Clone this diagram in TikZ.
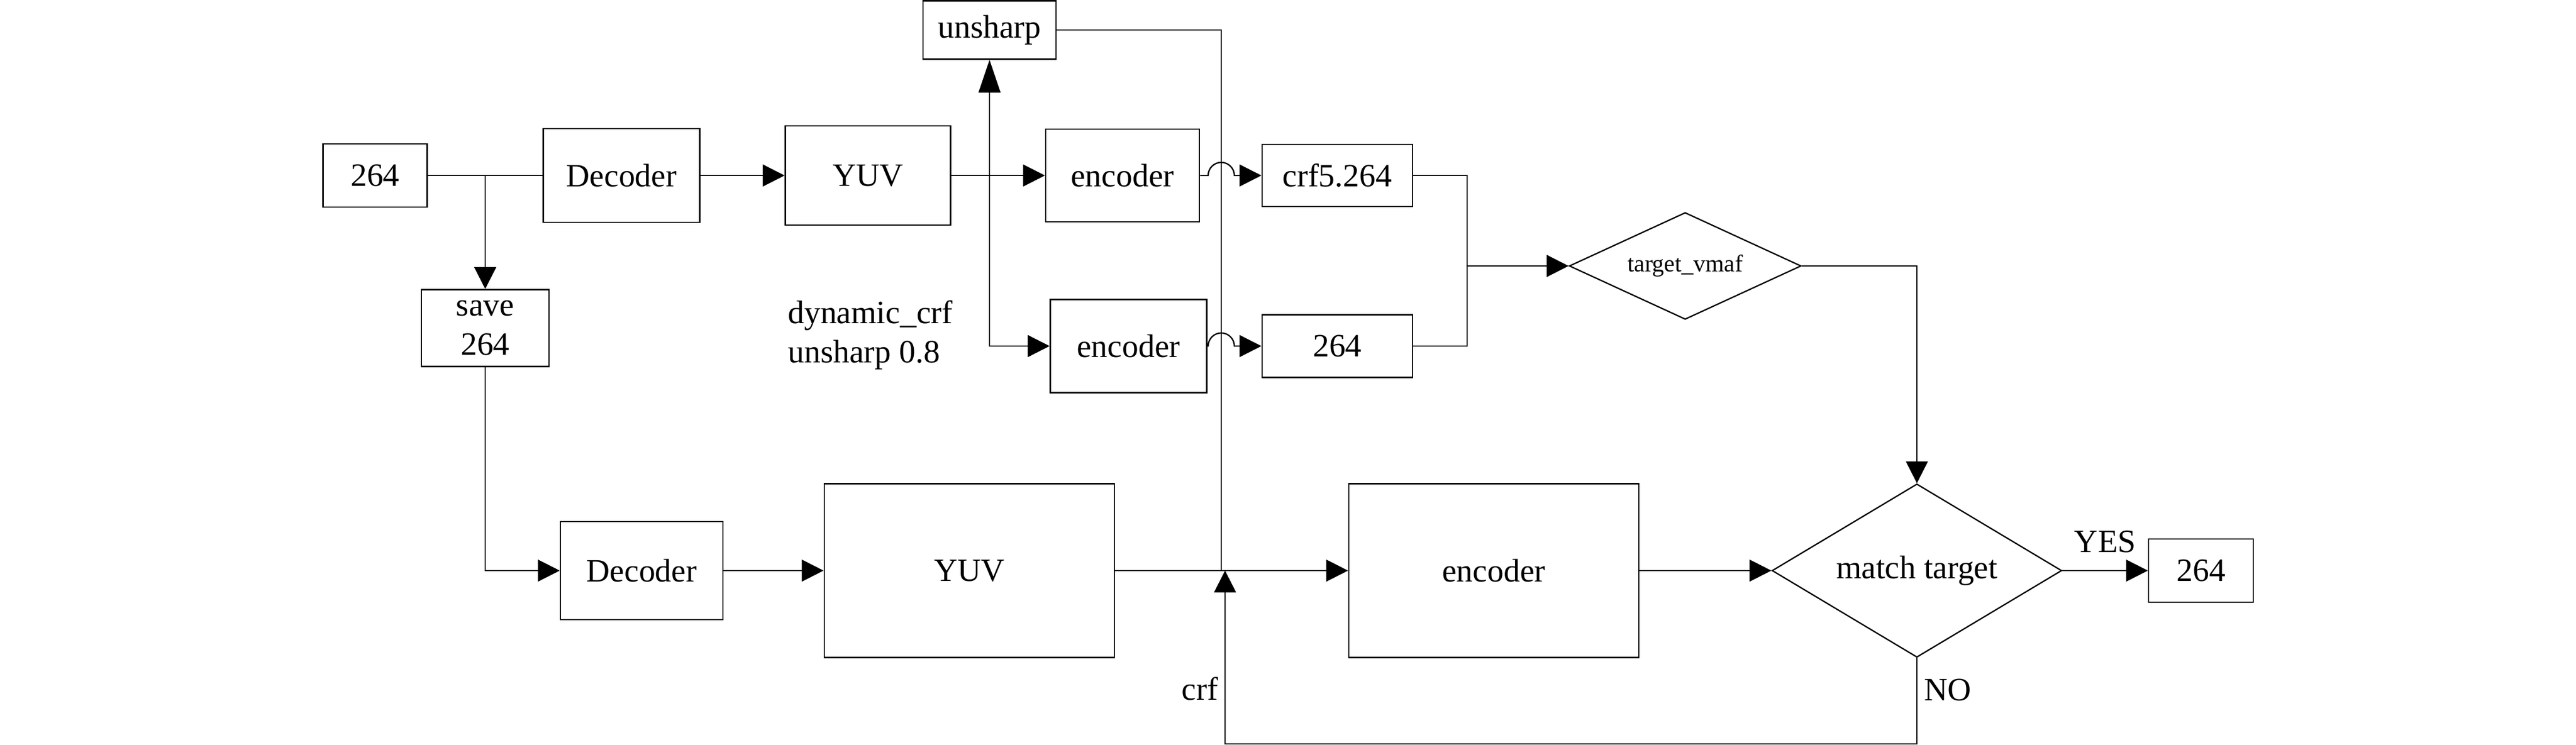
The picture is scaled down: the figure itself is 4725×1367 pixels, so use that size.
\documentclass[tikz,border=0pt]{standalone}
\usepackage{fontspec}
\setmainfont{Liberation Serif}
\usetikzlibrary{arrows.meta,shapes.geometric}

\begin{document}
\begin{tikzpicture}[x=0.01cm,y=-0.01cm,line width=0.7pt,font=\fontsize{17}{20.5}\selectfont]
\useasboundingbox (0,0) rectangle (4725,1367);
\begin{scope}[every node/.style={rectangle,draw,inner sep=0pt}]
    \node[minimum width=1.91cm,minimum height=1.16cm] (In) at (688,322) {264};
    \node[minimum width=2.87cm,minimum height=1.72cm] (Dec1) at (1140,322) {Decoder};
    \node[minimum width=3.03cm,minimum height=1.82cm] (Yuv1) at (1592,322) {YUV};
    \node[minimum width=2.44cm,minimum height=1.07cm] (Unsharp) at (1815,55) {unsharp};
    \node[minimum width=2.82cm,minimum height=1.70cm] (Enc1) at (2059,322) {encoder};
    \node[minimum width=2.87cm,minimum height=1.71cm] (Enc2) at (2070,635) {encoder};
    \node[minimum width=2.34cm,minimum height=1.41cm,align=center] (Save) at (890,602) {save\\264};
    \node[minimum width=2.76cm,minimum height=1.14cm] (Crf5) at (2453,322) {crf5.264};
    \node[minimum width=2.76cm,minimum height=1.15cm] (Mid) at (2453,635) {264};
    \node[minimum width=2.98cm,minimum height=1.80cm] (Dec2) at (1177,1047) {Decoder};
    \node[minimum width=5.32cm,minimum height=3.19cm] (Yuv2) at (1778,1047) {YUV};
    \node[minimum width=5.32cm,minimum height=3.19cm] (Enc3) at (2740,1047) {encoder};
    \node[minimum width=1.92cm,minimum height=1.16cm] (Out) at (4037,1047) {264};
\end{scope}
\begin{scope}[every node/.style={diamond,draw,inner sep=0pt}]
    \node[aspect=2.17,minimum width=4.25cm,minimum height=1.96cm,font=\fontsize{12.5}{15}\selectfont] (Vmaf) at (3091,488) {target\_vmaf};
    \node[aspect=1.67,minimum width=5.31cm,minimum height=3.18cm] (Match) at (3516,1047) {match target};
\end{scope}
\node[anchor=west,inner sep=0pt,align=left] (Param) at (1444,615) {dynamic\_crf\\unsharp 0.8};
\coordinate (Split) at (890,322);
\coordinate (Tap) at (1815,322);
\coordinate (Merge) at (2240,1047);
\coordinate (Join) at (2691,488);
\coordinate (Back) at (3516,1365);
\coordinate (CrfIn) at (2247,1047);
\coordinate (Hop1) at (Enc1.east -| Merge);
\coordinate (Hop2) at (Enc2.east -| Merge);
\begin{scope}[>={Triangle[length=0.4cm,width=0.4cm]}]
    \path [draw] (In) -- (Dec1);
    \path [draw,->] (Split) -- (Save);
    \path [draw,->] (Dec1) -- (Yuv1);
    \path [draw,->] (Yuv1) -- (Enc1);
    \path [draw,->,>={Triangle[length=0.6cm,width=0.4cm]}] (Tap) -- (Unsharp);
    \path [draw,->] (Tap) |- (Enc2);
    \path [draw] (Unsharp.east) -| (Merge);
    \path [draw,->] (Enc1) -- ([xshift=-0.24cm]Hop1) arc[start angle=180,end angle=0,radius=0.24cm] -- (Crf5);
    \path [draw,->] (Enc2) -- ([xshift=-0.24cm]Hop2) arc[start angle=180,end angle=0,radius=0.24cm] -- (Mid);
    \path [draw] (Crf5) -| (Join);
    \path [draw] (Mid) -| (Join);
    \path [draw,->] (Join) -- (Vmaf);
    \path [draw,->] (Vmaf) -| (Match);
    \path [draw,->] (Save) |- (Dec2);
    \path [draw,->] (Dec2) -- (Yuv2);
    \path [draw,->] (Yuv2) -- (Enc3);
    \path [draw,->] (Enc3) -- (Match);
    \path [draw,->] (Match) -- node [above=0.2cm]{YES} (Out);
    \path [draw,->] (Match.south) -- node [right,pos=.37]{NO} (Back) -| node [left,pos=.66]{crf} (CrfIn);
\end{scope}
\end{tikzpicture}
\end{document}
